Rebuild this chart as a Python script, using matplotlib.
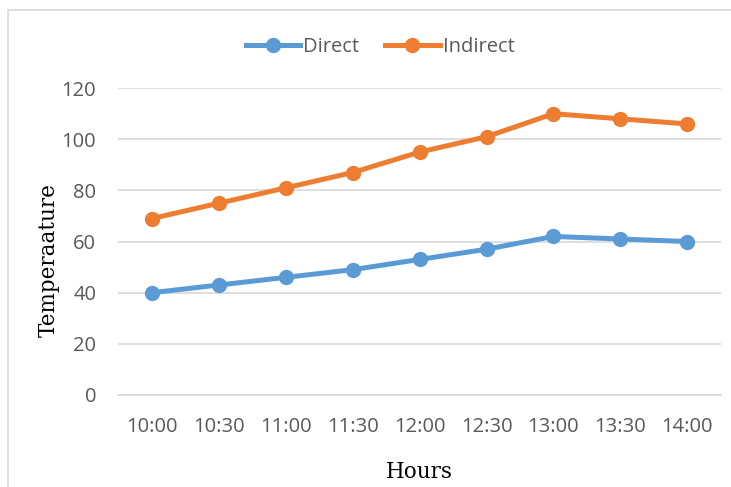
import matplotlib.pyplot as plt
from matplotlib.patches import Rectangle

hours = ['10:00', '10:30', '11:00', '11:30', '12:00', '12:30', '13:00', '13:30', '14:00']
direct = [40, 43, 46, 49, 53, 57, 62, 61, 60]
indirect = [69, 75, 81, 87, 95, 101, 110, 108, 106]
yticks = [0, 20, 40, 60, 80, 100, 120]

blue = '#5b9bd5'
orange = '#ed7d31'
grey = '#595959'

fig = plt.figure(figsize=(7.31, 4.87), dpi=100)
ax = fig.add_axes([0.162, 0.189, 0.824, 0.630])

# outer chart frame
fig.patches.append(Rectangle((8 / 731, -0.05), 1.0, 1 - 10 / 487 + 0.05,
                             transform=fig.transFigure, fill=False,
                             edgecolor='#d9d9d9', linewidth=1.2))

x = list(range(len(hours)))
ax.plot(x, direct, '-o', color=blue, linewidth=3.6, markersize=10, label='Direct', zorder=3)
ax.plot(x, indirect, '-o', color=orange, linewidth=3.6, markersize=10, label='Indirect', zorder=3)

ax.set_xlim(-0.5, len(hours) - 0.5)
ax.set_ylim(0, 120)
ax.set_xticks(x)
ax.set_xticklabels(hours)
ax.set_yticks(yticks)
ax.grid(axis='y', color='#d9d9d9', linewidth=1.2)
ax.set_axisbelow(True)
for s in ['top', 'right', 'left']:
    ax.spines[s].set_visible(False)
ax.spines['bottom'].set_color('#d9d9d9')
ax.spines['bottom'].set_linewidth(1.2)
ax.tick_params(length=0, labelsize=14.5, labelcolor=grey)
ax.tick_params(axis='x', pad=16)
ax.tick_params(axis='y', pad=16)
for lab in ax.get_xticklabels() + ax.get_yticklabels():
    lab.set_fontfamily('Open Sans')

ax.set_xlabel('Hours', family='DejaVu Serif', fontsize=15.5, color='black', labelpad=17)
ax.set_ylabel('Temperaature', family='DejaVu Serif', fontsize=15.5, color='black')
ax.yaxis.set_label_coords(-0.098, 0.44)

leg = fig.legend(loc='center', bbox_to_anchor=(380 / 731, 1 - 47 / 487), ncol=2, frameon=False,
                 handlelength=2.7, columnspacing=1.3, handletextpad=0.15,
                 prop={'family': 'Open Sans', 'size': 14.5})
for t in leg.get_texts():
    t.set_color(grey)

fig.savefig('out.png', dpi=100)
